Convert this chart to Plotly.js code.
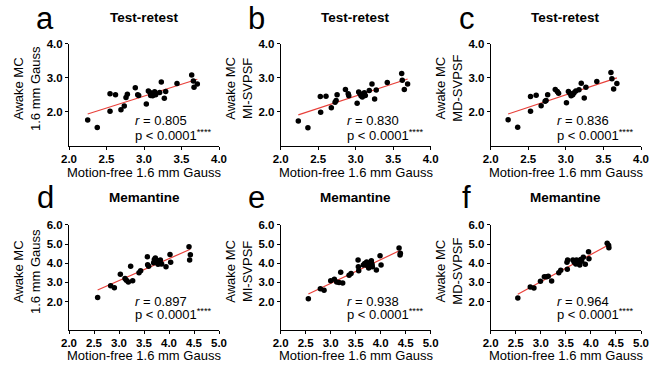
<!DOCTYPE html>
<html>
<head>
<meta charset="utf-8">
<script src="https://cdn.plot.ly/plotly-3.0.1.min.js"></script>
<style>html,body{margin:0;padding:0;background:#fff;}#chart{width:661px;height:368px;}</style>
</head>
<body>
<div id="chart"></div>
<script>
// ---- Data ----
const panelLetters = ["a", "b", "c", "d", "e", "f"];
const panelTitles = ["Test-retest", "Test-retest", "Test-retest", "Memantine", "Memantine", "Memantine"];
const yTitles = ["Awake MC<br>1.6 mm Gauss", "Awake MC<br>MI-SVPSF", "Awake MC<br>MD-SVPSF",
                 "Awake MC<br>1.6 mm Gauss", "Awake MC<br>MI-SVPSF", "Awake MC<br>MD-SVPSF"];
const xTitle = "Motion-free 1.6 mm Gauss";
const rValues = ["0.805", "0.830", "0.836", "0.897", "0.938", "0.964"];
const pText = "p &lt; 0.0001<sup>****</sup>";

const topXTicks = [2.0, 2.5, 3.0, 3.5, 4.0];
const topYTicks = [2.0, 3.0, 4.0];
const botXTicks = [2.0, 2.5, 3.0, 3.5, 4.0, 4.5, 5.0];
const botYTicks = [2.0, 3.0, 4.0, 5.0, 6.0];

const aX = [2.249,2.377,2.547,2.62,2.547,2.693,2.737,2.76,2.778,2.884,2.916,2.929,3.031,3.058,3.08,3.089,3.116,3.142,3.156,3.209,3.231,3.271,3.289,3.44,3.636,3.658,3.667,3.711];
const aY = [1.75,1.53,2.52,2.49,2.01,2.05,2.16,2.41,2.51,2.70,2.49,2.47,2.22,2.60,2.56,2.47,2.46,2.58,2.49,2.56,2.87,2.39,2.59,2.82,3.07,2.90,2.71,2.81];

const bX = [2.235,2.363,2.528,2.604,2.533,2.675,2.725,2.739,2.752,2.863,2.9,2.908,3.019,3.04,3.057,3.071,3.088,3.115,3.128,3.181,3.217,3.252,3.274,3.421,3.613,3.621,3.648,3.692];
const bY = [1.72,1.52,2.44,2.45,1.98,2.11,2.27,2.32,2.49,2.65,2.52,2.46,2.24,2.57,2.52,2.46,2.43,2.55,2.47,2.62,2.81,2.37,2.63,2.85,3.12,2.92,2.65,2.81];

const cX = [2.232,2.359,2.53,2.605,2.53,2.671,2.724,2.737,2.758,2.859,2.886,2.903,3.008,3.034,3.053,3.07,3.092,3.109,3.132,3.175,3.205,3.245,3.267,3.412,3.6,3.613,3.636,3.679];
const cY = [1.76,1.54,2.44,2.48,2.01,2.17,2.30,2.32,2.49,2.65,2.59,2.54,2.26,2.59,2.54,2.46,2.49,2.55,2.60,2.64,2.83,2.40,2.71,2.88,3.15,2.96,2.66,2.82];

const dX = [2.573,2.833,2.907,3.027,3.12,3.147,3.187,3.233,3.273,3.4,3.433,3.567,3.573,3.593,3.693,3.707,3.727,3.76,3.78,3.8,3.82,3.827,3.853,3.94,4.02,4.033,4.4,4.427,4.413];
const dY = [2.22,2.83,2.72,3.42,3.21,3.11,3.02,3.84,3.09,3.51,3.61,4.34,3.92,3.84,4.03,4.20,4.27,4.06,3.94,4.13,3.99,4.17,3.96,3.82,4.46,4.05,4.86,4.44,4.17];

const eX = [2.553,2.793,2.867,3.0,3.073,3.12,3.167,3.2,3.24,3.367,3.407,3.547,3.553,3.56,3.653,3.68,3.72,3.733,3.76,3.787,3.813,3.827,3.833,3.913,3.987,4.007,4.367,4.387,4.393];
const eY = [2.15,2.67,2.59,3.09,3.16,3.02,3.0,3.53,2.97,3.37,3.47,4.17,3.82,3.61,3.91,3.99,4.06,3.87,3.75,3.97,4.13,3.94,3.82,3.65,4.39,3.91,4.79,4.43,4.52];

const fX = [2.541,2.79,2.863,2.993,3.071,3.118,3.149,3.216,3.359,3.398,3.529,3.535,3.522,3.64,3.667,3.699,3.712,3.738,3.757,3.777,3.797,3.816,3.849,3.888,3.953,3.961,4.325,4.353,4.359];
const fY = [2.19,2.76,2.71,3.06,3.30,3.30,3.32,3.07,3.51,3.63,3.68,4.17,4.05,4.17,4.05,3.96,4.17,4.10,3.99,3.91,4.20,4.10,4.31,3.94,4.60,4.23,5.04,4.93,4.81];

const panelX = [aX, bX, cX, dX, eX, fX];
const panelY = [aY, bY, cY, dY, eY, fY];

// ---- Layout geometry (pixels) ----
const W = 661, H = 368;
const colPx = [[69, 219], [280.7, 430.7], [490.7, 641]];
const rowPx = [[43.5, 145.5], [224.8, 329.5]]; // top, bottom
const FONT = "Liberation Sans, Arial, sans-serif";

function px2x(p) { return p / W; }
function py2y(p) { return 1 - p / H; }

function linfit(xs, ys) {
  const n = xs.length;
  let sx = 0, sy = 0, sxx = 0, sxy = 0;
  for (let i = 0; i < n; i++) { sx += xs[i]; sy += ys[i]; sxx += xs[i]*xs[i]; sxy += xs[i]*ys[i]; }
  const m = (n*sxy - sx*sy) / (n*sxx - sx*sx);
  const b = (sy - m*sx) / n;
  const x0 = Math.min(...xs), x1 = Math.max(...xs);
  return { x: [x0, x1], y: [m*x0 + b, m*x1 + b] };
}

const data = [];
const layout = {
  width: W, height: H,
  margin: { l: 0, r: 0, t: 0, b: 0 },
  paper_bgcolor: "#fff", plot_bgcolor: "#fff",
  showlegend: false,
  font: { family: FONT, color: "#000" },
  annotations: []
};

for (let i = 0; i < 6; i++) {
  const row = i < 3 ? 0 : 1;
  const col = i % 3;
  const ax = i === 0 ? "" : String(i + 1);
  const xa = "x" + ax, ya = "y" + ax;
  const fit = linfit(panelX[i], panelY[i]);
  data.push({ x: fit.x, y: fit.y, type: "scatter", mode: "lines", xaxis: xa, yaxis: ya,
              line: { color: "#e8403a", width: 1.2 }, hoverinfo: "skip" });
  data.push({ x: panelX[i], y: panelY[i], type: "scatter", mode: "markers", xaxis: xa, yaxis: ya,
              marker: { color: "#000", size: 5.5 } });

  const [cx0, cx1] = colPx[col];
  const [ry0, ry1] = rowPx[row];
  const xTicks = row === 0 ? topXTicks : botXTicks;
  const yTicks = row === 0 ? topYTicks : botYTicks;
  const axCommon = {
    showgrid: false, zeroline: false, showline: true, linecolor: "#000", linewidth: 1,
    ticks: "outside", ticklen: 3, tickwidth: 1, tickcolor: "#000",
    tickfont: { family: FONT, size: 11.5, color: "#000" },
    fixedrange: true
  };
  layout["xaxis" + ax] = Object.assign({}, axCommon, {
    domain: [px2x(cx0), px2x(cx1)],
    range: [xTicks[0], xTicks[xTicks.length - 1]],
    tickmode: "array",
    tickvals: xTicks, ticktext: xTicks.map(v => "<b>" + v.toFixed(1) + "</b>"),
    anchor: ya
  });
  layout["yaxis" + ax] = Object.assign({}, axCommon, {
    domain: [py2y(ry1), py2y(ry0)],
    range: row === 0 ? [1.0, 4.0] : [0.55, 6.0],
    tickmode: "array",
    tickvals: yTicks, ticktext: yTicks.map(v => "<b>" + v.toFixed(1) + "</b>"),
    anchor: xa
  });

  const midX = (cx0 + cx1) / 2;
  const A = layout.annotations;
  // panel letter
  A.push({ text: panelLetters[i], xref: "paper", yref: "paper", showarrow: false,
           x: px2x(cx0 - 24), y: py2y(row === 0 ? 19 : 197), xanchor: "center", yanchor: "middle",
           font: { family: FONT, size: 31, color: "#000" } });
  // panel title
  A.push({ text: "<b>" + panelTitles[i] + "</b>", xref: "paper", yref: "paper", showarrow: false,
           x: px2x(midX), y: py2y(row === 0 ? 17 : 197), xanchor: "center", yanchor: "middle",
           font: { family: FONT, size: 13.5, color: "#000" } });
  // y title
  A.push({ text: yTitles[i], xref: "paper", yref: "paper", showarrow: false, textangle: -90,
           x: px2x(cx0 - 42), y: py2y(row === 0 ? 88 : 271), xanchor: "center", yanchor: "middle",
           font: { family: FONT, size: 13, color: "#000" } });
  // x title
  A.push({ text: xTitle, xref: "paper", yref: "paper", showarrow: false,
           x: px2x(midX), y: py2y(row === 0 ? 172 : 355.5), xanchor: "center", yanchor: "middle",
           font: { family: FONT, size: 13, color: "#000" } });
  // r and p
  const textLeft = cx0 + 64;
  A.push({ text: "<i>r</i> = " + rValues[i], xref: "paper", yref: "paper", showarrow: false,
           x: px2x(textLeft), y: py2y(row === 0 ? 121 : 301), xanchor: "left", yanchor: "middle",
           font: { family: FONT, size: 13, color: "#000" } });
  A.push({ text: pText, xref: "paper", yref: "paper", showarrow: false,
           x: px2x(textLeft), y: py2y(row === 0 ? 135 : 314), xanchor: "left", yanchor: "middle",
           font: { family: FONT, size: 13, color: "#000" } });
}

Plotly.newPlot("chart", data, layout, { staticPlot: true, displayModeBar: false });
</script>
</body>
</html>
